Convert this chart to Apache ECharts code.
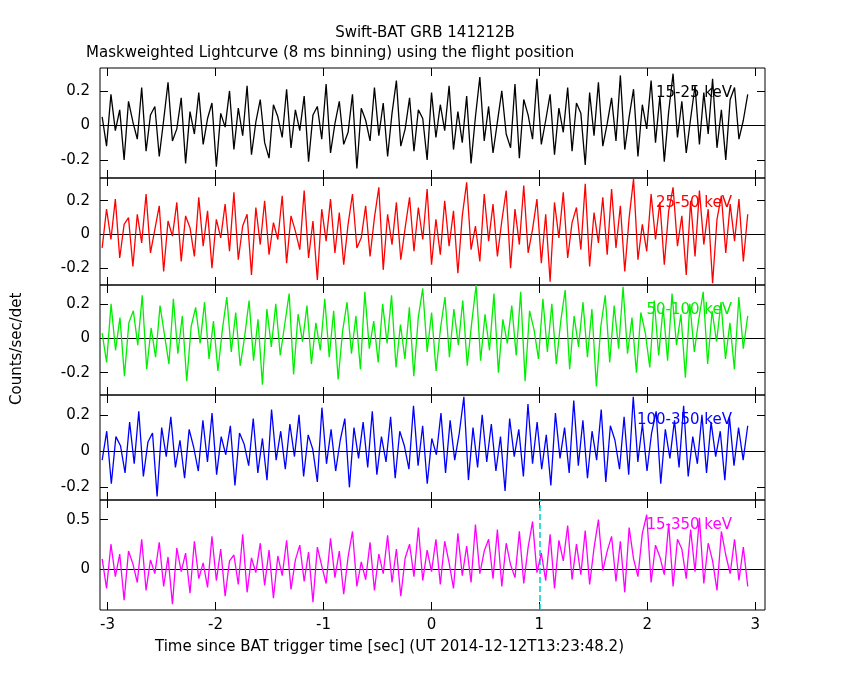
<!DOCTYPE html><html><head><meta charset="utf-8"><script src="https://cdn.jsdelivr.net/npm/echarts@6/dist/echarts.min.js"></script></head><body style="margin:0;background:#fff"><div id="c" style="width:850px;height:680px"></div><script>
const tStart=-3.05, tEnd=2.93;
const labels=["15-25 keV","25-50 keV","50-100 keV","100-350 keV","15-350 keV"];
const colors=["#000000","#ff0000","#00ee00","#0000ff","#ff00ff"];
const xTicks=[-3,-2,-1,0,1,2,3];
const yTicks=[[-0.2,0,0.2],[-0.2,0,0.2],[-0.2,0,0.2],[-0.2,0,0.2],[0,0.5]];
const p1=[5,-12,18,-3,9,-20,14,2,-8,22,-15,6,11,-18,3,25,-9,-2,16,-22,8,-5,19,-11,4,13,-24,7,-1,20,-14,10,-6,23,-17,2,15,-10,-19,12,5,-7,21,-13,9,-3,17,-21,6,11,-8,24,-16,1,14,-11,-4,18,-25,10,3,-9,22,-6,13,-18,7,26,-12,-2,16,-15,9,4,-20,19,-7,12,-3,23,-14,8,-10,17,-22,5,28,-9,11,-16,2,20,-5,-13,24,-19,15,6,-8,27,-11,3,18,-17,10,-4,22,-15,13,7,-23,19,-6,25,-12,1,16,-9,29,-14,5,21,-18,12,-2,26,-10,17,-21,8,30,-7,14,-16,4,23,-11,19,-5,27,-13,9,-20,15,22,-8,3,18];
const p2=[-8,15,-3,21,-14,6,10,-19,12,-5,24,-11,3,17,-22,8,-1,19,-16,11,4,-13,22,-7,14,-20,9,-2,18,-10,25,-15,5,12,-24,16,-6,20,-12,7,-3,23,-17,11,2,-9,26,-14,8,-27,15,-4,21,-11,13,-18,6,24,-8,-2,17,-13,10,28,-21,12,-6,19,-15,4,22,-10,16,-3,27,-18,9,-12,20,-7,14,-23,11,31,-9,5,-16,24,-4,18,-13,8,26,-20,15,-6,29,-11,3,21,-17,12,-28,19,-2,25,-14,7,16,-9,30,-19,13,-5,22,-12,27,-8,17,-22,10,33,-15,6,-10,24,-3,19,-18,14,28,-7,11,-24,20,-13,26,-6,15,-29,9,23,-11,18,-4,21,-16,12];
const p3=[3,-14,20,-7,12,-22,9,16,-4,25,-18,6,-11,19,2,-15,23,-9,13,-25,7,18,-3,21,-12,10,-19,5,24,-8,15,-16,1,22,-13,11,-27,17,-5,20,-10,8,26,-21,14,-2,19,-15,9,-7,23,-11,16,-24,4,21,-9,13,-18,27,-6,10,-14,20,-3,25,-17,8,-12,18,-22,12,29,-8,15,-19,6,24,-11,17,-4,22,-16,9,31,-13,14,-7,26,-20,11,-3,19,-10,27,-25,16,5,-12,23,-8,20,-15,10,28,-18,13,-5,21,-11,17,-28,7,25,-14,19,-6,30,-9,12,-20,15,3,-17,22,-10,18,-13,26,-4,14,-23,20,-8,11,27,-15,16,-2,21,-12,9,-18,24,-6,13];
const p4=[-5,11,-18,8,3,-12,16,-7,22,-14,5,10,-25,13,-3,19,-9,6,-15,12,2,-11,17,-6,21,-13,8,-2,14,-19,10,4,-8,18,-12,7,-16,23,-5,11,-10,15,-3,20,-14,9,1,-17,24,-7,12,-11,6,18,-20,13,-4,16,-9,22,-13,8,-6,19,-15,11,3,-10,25,-8,14,-18,7,-2,21,-12,17,-5,10,30,-16,13,-9,20,-6,15,-11,8,-22,18,-3,12,-14,26,-7,16,-10,9,-19,21,-4,13,-12,28,-8,17,-15,11,-5,23,-17,14,6,-10,19,-13,30,-6,15,-11,10,22,-18,12,-4,17,-9,25,-14,8,-7,20,-12,16,-3,11,-16,19,-8,13,-5,14];
const p5=[10,-20,25,-8,15,-32,18,5,-14,30,-22,9,-5,27,-18,12,-36,21,-3,16,-25,28,-10,6,-19,33,-12,20,-28,8,14,-16,35,-24,11,-4,26,-17,19,-30,13,-7,29,-21,9,24,-13,17,-34,22,3,-15,31,-9,18,-26,12,38,-18,7,-11,27,-22,15,-5,34,-14,20,-28,11,25,-8,42,-12,19,-3,30,-16,28,6,-20,36,-7,23,-14,45,-5,18,30,-10,40,-18,26,4,-9,38,-15,22,48,-4,16,-12,35,-20,29,8,44,-11,25,-6,39,-16,21,50,-2,18,33,-13,28,-24,42,10,-8,36,55,-14,24,12,-6,46,-18,30,20,-10,40,-3,52,-15,26,8,-22,38,14,-5,30,-12,22,-18];
const series=[p1,p2,p3,p4,p5];
const ranges=[[-0.305,0.333],[-0.3,0.335],[-0.33,0.31],[-0.27,0.31],[-0.42,0.7]];
const tops=[68,178,285,395,500], hs=[110,107,110,105,110];
const grids=[],xAxes=[],yAxes=[],ser=[],gfx=[];
const tk={color:'#000'};
series.forEach((arr,i)=>{
  const dt=(tEnd-tStart)/(arr.length-1);
  grids.push({left:100,right:85,top:tops[i],height:hs[i],show:true,borderColor:'#000',borderWidth:1,backgroundColor:'transparent'});
  ['bottom','top'].forEach(pos=>xAxes.push({type:'value',gridIndex:i,position:pos,min:-3.07,max:3.09,axisLine:{show:false,onZero:false},splitLine:{show:false},
    axisTick:{show:true,inside:true,length:8,customValues:xTicks,lineStyle:tk},
    axisLabel:{show:i===4&&pos==='bottom',customValues:xTicks,color:'#000',fontSize:15,fontFamily:'DejaVu Sans',margin:8}}));
  ['left','right'].forEach(pos=>yAxes.push({type:'value',gridIndex:i,position:pos,min:ranges[i][0],max:ranges[i][1],axisLine:{show:false,onZero:false},splitLine:{show:false},
    axisTick:{show:true,inside:true,length:8,customValues:yTicks[i],lineStyle:tk},
    axisLabel:{show:pos==='left',customValues:yTicks[i],color:'#000',fontSize:15,fontFamily:'DejaVu Sans',margin:10}}));
  ser.push({type:'line',xAxisIndex:2*i,yAxisIndex:2*i,showSymbol:false,animation:false,z:5,
    lineStyle:{color:colors[i],width:1.3},data:arr.map((v,k)=>[tStart+k*dt,v/100]),
    markLine:{silent:true,symbol:'none',label:{show:false},animation:false,
      data:[{yAxis:0,lineStyle:{color:'#000',type:'solid',width:1}}].concat(i===4?[{xAxis:1,lineStyle:{color:'#00cccc',type:'dashed',width:1.5}}]:[])}});
  gfx.push({type:'text',right:118,top:tops[i]+18,style:{text:labels[i],fill:colors[i],font:'15px DejaVu Sans'},z:0,zlevel:0});
});
gfx.push({type:'text',left:'center',top:26,style:{text:'Swift-BAT GRB 141212B',fill:'#000',font:'15px DejaVu Sans'}});
gfx.push({type:'text',left:86,top:46,style:{text:'Maskweighted Lightcurve (8 ms binning) using the flight position',fill:'#000',font:'15px DejaVu Sans'}});
gfx.push({type:'text',left:155,top:640,style:{text:'Time since BAT trigger time [sec] (UT 2014-12-12T13:23:48.2)',fill:'#000',font:'15px DejaVu Sans'}});
gfx.push({type:'text',x:10,y:405,rotation:Math.PI/2,style:{text:'Counts/sec/det',fill:'#000',font:'15px DejaVu Sans'}});
const ch=echarts.init(document.getElementById('c'));
ch.setOption({animation:false,backgroundColor:'#fff',grid:grids,xAxis:xAxes,yAxis:yAxes,series:ser,graphic:gfx});
</script></body></html>
